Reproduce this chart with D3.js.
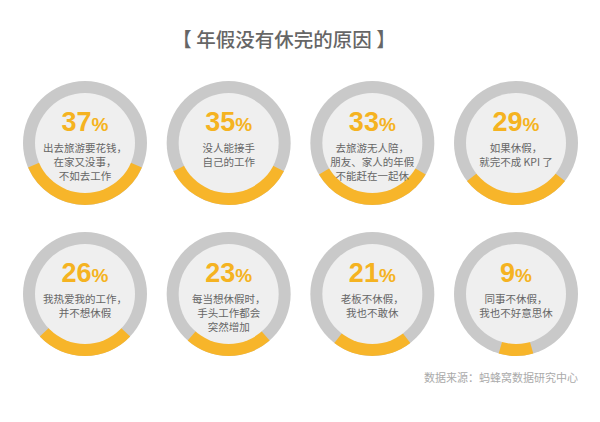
<!DOCTYPE html>
<html><head><meta charset="utf-8">
<script src="https://cdn.jsdelivr.net/npm/d3@7"></script>
<style>html,body{margin:0;padding:0;background:#fff;}svg{display:block;}</style>
</head><body>
<svg id="c" width="600" height="422"></svg>
<script>
const title = "【 年假没有休完的原因 】";
const source = "数据来源：蚂蜂窝数据研究中心";
const values = [37, 35, 33, 29, 26, 23, 21, 9];
const labels = [
  ["出去旅游要花钱，", "在家又没事，", "不如去工作"],
  ["没人能接手", "自己的工作"],
  ["去旅游无人陪，", "朋友、家人的年假", "不能赶在一起休"],
  ["如果休假，", "就完不成 KPI 了"],
  ["我热爱我的工作，", "并不想休假"],
  ["每当想休假时，", "手头工作都会", "突然增加"],
  ["老板不休假，", "我也不敢休"],
  ["同事不休假，", "我也不好意思休"]
];

const svg = d3.select("#c");
const cjk = "'Noto Sans CJK SC','Noto Sans',sans-serif";
const cols = 4;
const x = d3.scalePoint().domain(d3.range(cols)).range([85, 516]);
const y = d3.scalePoint().domain([0, 1]).range([143, 294]);
const R = 62, r = 50;
const pct = d3.scaleLinear().domain([0, 100]).range([0, 2 * Math.PI]);

svg.append("text").attr("x", 284).attr("y", 38).attr("text-anchor", "middle")
  .attr("dominant-baseline", "central").attr("font-family", cjk).attr("font-size", 19.5)
  .attr("font-weight", 500).attr("fill", "#666").text(title);

const arc = d3.arc();
const g = svg.selectAll("g.item").data(values).join("g").attr("class", "item")
  .attr("transform", (d, i) => `translate(${x(i % cols)},${y(Math.floor(i / cols))})`);

g.append("circle").attr("r", R).attr("fill", "#c9c9c9");
g.append("path").attr("fill", "#f7b52a").attr("d", d => arc({
  innerRadius: 0, outerRadius: R,
  startAngle: Math.PI - pct(d) / 2, endAngle: Math.PI + pct(d) / 2
}));
g.append("circle").attr("r", r).attr("fill", "#efefef");

const pt = g.append("text").attr("text-anchor", "middle").attr("y", -12)
  .attr("font-family", "'Liberation Sans',Arial,sans-serif").attr("font-weight", "bold")
  .attr("fill", "#f5b321");
pt.append("tspan").attr("font-size", 27).text(d => d);
pt.append("tspan").attr("font-size", 19).text("%");

g.each(function(d, i) {
  const t = d3.select(this).append("text").attr("class", "lab")
    .attr("text-anchor", "middle").attr("y", 8.5)
    .attr("font-family", cjk).attr("font-size", 10.5).attr("fill", "#666");
  t.selectAll("tspan").data(labels[i]).join("tspan")
    .attr("x", 0).attr("dy", (s, j) => j === 0 ? 0 : 14).text(s => s);
});

svg.append("text").attr("x", 578).attr("y", 377).attr("text-anchor", "end")
  .attr("dominant-baseline", "central").attr("font-family", cjk).attr("font-size", 11)
  .attr("fill", "#aaa").text(source);
</script>
</body></html>
